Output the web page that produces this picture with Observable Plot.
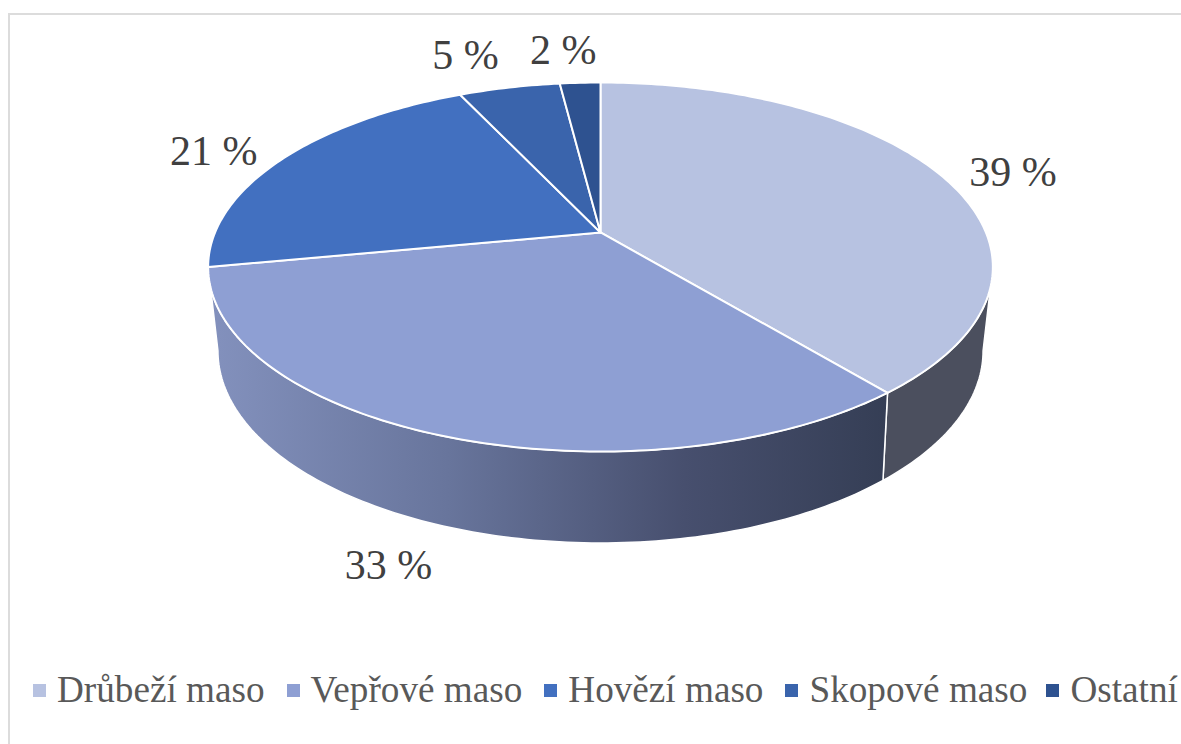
<!DOCTYPE html>
<html lang="cs">
<head>
<meta charset="utf-8">
<script src="https://cdn.jsdelivr.net/npm/d3@7"></script>
<script src="https://cdn.jsdelivr.net/npm/@observablehq/plot@0.6"></script>
<style>
  html, body { margin: 0; padding: 0; background: #fff; width: 1181px; height: 744px; overflow: hidden; }
  #frame { position: absolute; left: 8px; top: 13px; width: 1173px; height: 731px; border-left: 2px solid #dcdcdc; border-top: 2px solid #dcdcdc; box-sizing: border-box; }
  #chart { position: absolute; left: 0; top: 0; }
  #chart svg { display: block; }
  #legend { position: absolute; left: 33px; top: 668px; display: flex; align-items: center; white-space: nowrap;
    font-family: "Liberation Serif", serif; font-size: 37.2px; line-height: 44px; color: #595959; }
  #legend .item { display: flex; align-items: center; margin-right: 22px; }
  #legend .item:nth-child(4) { margin-right: 19px; }
  #legend .swatch { width: 13px; height: 13px; margin-right: 11px; }
</style>
</head>
<body>
<div id="frame"></div>
<div id="chart"></div>
<div id="legend"></div>
<script>
const categories = ["Drůbeží maso", "Vepřové maso", "Hovězí maso", "Skopové maso", "Ostatní"];
const shares = [39, 33, 21, 5, 2];
const colors = ["#b7c2e1", "#8e9fd3", "#4270c0", "#3a64ac", "#2e5290"];
const labelTurn = [2.3, -3.4, -2.6, -3.2, -1.8];
const labelRadius = [1.198, 1.444, 1.204, 1.294, 1.269];

// Perspective of the two disc planes (tilted pie with depth)
const topPlane = {k: 0.187, a: 0.982, b: 1, c: -0.187};
const basePlane = {k: 0.2, a: 0.955, b: 0.95, c: 0.2466};
const project = (deg, r, p) => {
  const t = deg * Math.PI / 180, u = r * Math.sin(t), v = r * Math.cos(t), w = 1 + p.k * v;
  return {nx: p.a * u / w, ny: (-p.b * v + p.c) / w};
};
const arc = (from, to, p) => {
  const n = Math.max(2, Math.ceil(Math.abs(to - from)));
  return d3.range(n + 1).map(i => project(from + (to - from) * i / n, 1, p));
};

const total = d3.sum(shares);
const cum = d3.cumsum(shares);
const ends = Array.from(cum, c => c / total * 360);
const starts = [0, ...ends.slice(0, -1)];

const topRows = categories.flatMap((category, i) =>
  [project(0, 0, topPlane), ...arc(starts[i], ends[i], topPlane)].map(d => ({...d, category})));

// Silhouette angles of the visible side wall
const rimRight = 107, rimLeft = 253, baseRight = 101.5, baseLeft = 258.5;
const wall1 = [...arc(rimRight, ends[0], topPlane), ...arc(ends[0], baseRight, basePlane)];
const wall2 = [...arc(ends[0], rimLeft, topPlane), ...arc(baseLeft, ends[0], basePlane)];

const labelRows = categories.map((category, i) => {
  const mid = (starts[i] + ends[i]) / 2 + labelTurn[i];
  return {...project(mid, labelRadius[i], topPlane), text: `${shares[i]} %`};
});

const defs = () => {
  const d = d3.create("svg:defs");
  const g = d.append("linearGradient").attr("id", "wallGradient");
  [[0, "#8391bd"], [0.35, "#68759c"], [0.7, "#474f6e"], [1, "#353e55"]].forEach(([o, c]) =>
    g.append("stop").attr("offset", o).attr("stop-color", c));
  return d.node();
};

const plot = Plot.plot({
  width: 1181,
  height: 660,
  margin: 0,
  style: {background: "transparent"},
  x: {domain: [-1, 1], range: [207.5, 992.5], axis: null},
  y: {domain: [-1, 1], range: [82, 451], axis: null},
  color: {domain: categories, range: colors},
  marks: [
    defs,
    Plot.line(wall1, {x: "nx", y: "ny", fill: "#4b4f5e", stroke: "white", strokeWidth: 1.5, curve: "linear-closed"}),
    Plot.line(wall2, {x: "nx", y: "ny", fill: "url(#wallGradient)", stroke: "white", strokeWidth: 1.5, curve: "linear-closed"}),
    Plot.line(topRows, {x: "nx", y: "ny", z: "category", fill: "category", stroke: "white", strokeWidth: 2, strokeLinejoin: "round", curve: "linear-closed"}),
    Plot.text(labelRows, {x: "nx", y: "ny", text: "text", fontFamily: "Liberation Serif", fontSize: 42, fill: "#404040", textAnchor: "middle", lineAnchor: "middle"})
  ]
});
document.getElementById("chart").append(plot);

const legend = d3.select("#legend");
categories.forEach((c, i) => {
  const item = legend.append("div").attr("class", "item");
  item.append("div").attr("class", "swatch").style("background", colors[i]);
  item.append("span").text(c);
});
</script>
</body>
</html>
